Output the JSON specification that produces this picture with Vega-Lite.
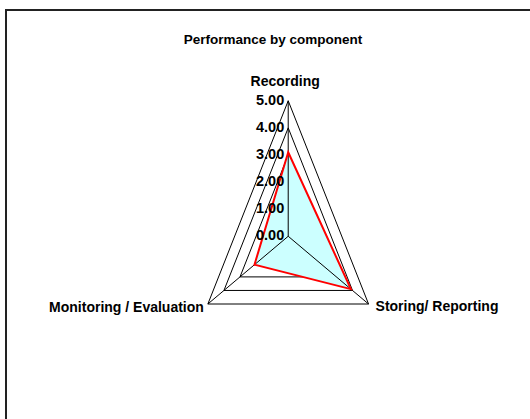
{
  "$schema": "https://vega.github.io/schema/vega-lite/v6.json",
  "autosize": "none",
  "width": 534,
  "height": 420,
  "padding": {"left": 6, "top": 10, "right": -10, "bottom": -11},
  "background": "white",
  "config": {
    "view": {"stroke": "#222222", "strokeWidth": 2},
    "font": "Liberation Sans, Arial, sans-serif"
  },
  "title": {
    "text": "Performance by component",
    "font": "Liberation Sans, Arial, sans-serif",
    "fontSize": 13.5,
    "fontWeight": "bold",
    "color": "black",
    "anchor": "middle",
    "frame": "group",
    "baseline": "alphabetic",
    "offset": -47.4
  },
  "datasets": {
    "scores": [
      {"component": "Recording", "idx": 0, "value": 3.1},
      {"component": "Storing/ Reporting", "idx": 1, "value": 3.9},
      {"component": "Monitoring / Evaluation", "idx": 2, "value": 2.1}
    ],
    "grid": [
      {"level": 1, "idx": 0}, {"level": 1, "idx": 1}, {"level": 1, "idx": 2},
      {"level": 2, "idx": 0}, {"level": 2, "idx": 1}, {"level": 2, "idx": 2},
      {"level": 3, "idx": 0}, {"level": 3, "idx": 1}, {"level": 3, "idx": 2},
      {"level": 4, "idx": 0}, {"level": 4, "idx": 1}, {"level": 4, "idx": 2},
      {"level": 5, "idx": 0}, {"level": 5, "idx": 1}, {"level": 5, "idx": 2}
    ],
    "ticks": [
      {"tick": 0}, {"tick": 1}, {"tick": 2}, {"tick": 3}, {"tick": 4}, {"tick": 5}
    ]
  },
  "layer": [
    {
      "data": {"name": "grid"},
      "transform": [
        {"calculate": "datum.level * sin(datum.idx * 2 * PI / 3)", "as": "px"},
        {"calculate": "datum.level * cos(datum.idx * 2 * PI / 3)", "as": "py"}
      ],
      "mark": {"type": "line", "interpolate": "linear-closed", "color": "black", "strokeWidth": 1},
      "encoding": {
        "x": {"field": "px", "type": "quantitative", "scale": {"domain": [-15.21, 13.57], "zero": false, "nice": false}, "axis": null},
        "y": {"field": "py", "type": "quantitative", "scale": {"domain": [-7.15, 8.35], "zero": false, "nice": false}, "axis": null},
        "detail": {"field": "level", "type": "nominal"},
        "order": {"field": "idx", "type": "quantitative"}
      }
    },
    {
      "data": {"name": "scores"},
      "transform": [
        {"calculate": "datum.value * sin(datum.idx * 2 * PI / 3)", "as": "px"},
        {"calculate": "datum.value * cos(datum.idx * 2 * PI / 3)", "as": "py"}
      ],
      "mark": {"type": "line", "interpolate": "linear-closed", "fill": "#ccffff", "stroke": "#ccffff", "strokeOpacity": 0},
      "encoding": {
        "x": {"field": "px", "type": "quantitative"},
        "y": {"field": "py", "type": "quantitative"},
        "order": {"field": "idx", "type": "quantitative"}
      }
    },
    {
      "data": {"name": "scores"},
      "transform": [
        {"calculate": "0 * datum.value", "as": "cx"},
        {"calculate": "5 * sin(datum.idx * 2 * PI / 3)", "as": "ox"},
        {"calculate": "5 * cos(datum.idx * 2 * PI / 3)", "as": "oy"}
      ],
      "mark": {"type": "rule", "color": "black", "strokeWidth": 1},
      "encoding": {
        "x": {"field": "cx", "type": "quantitative"},
        "y": {"field": "cx", "type": "quantitative"},
        "x2": {"field": "ox"},
        "y2": {"field": "oy"}
      }
    },
    {
      "data": {"name": "scores"},
      "transform": [
        {"calculate": "datum.value * sin(datum.idx * 2 * PI / 3)", "as": "px"},
        {"calculate": "datum.value * cos(datum.idx * 2 * PI / 3)", "as": "py"}
      ],
      "mark": {"type": "line", "interpolate": "linear-closed", "color": "#ff0000", "strokeWidth": 2},
      "encoding": {
        "x": {"field": "px", "type": "quantitative"},
        "y": {"field": "py", "type": "quantitative"},
        "order": {"field": "idx", "type": "quantitative"}
      }
    },
    {
      "data": {"name": "ticks"},
      "transform": [
        {"calculate": "0 * datum.tick", "as": "tx"}
      ],
      "mark": {"type": "text", "align": "right", "baseline": "middle", "dx": -4, "fontSize": 14.5, "fontWeight": "bold", "color": "black"},
      "encoding": {
        "x": {"field": "tx", "type": "quantitative"},
        "y": {"field": "tick", "type": "quantitative"},
        "text": {"field": "tick", "type": "quantitative", "format": ".2f"}
      }
    },
    {
      "data": {"name": "scores"},
      "transform": [
        {"filter": "datum.idx == 0"},
        {"calculate": "5 * sin(datum.idx * 2 * PI / 3)", "as": "ox"},
        {"calculate": "5 * cos(datum.idx * 2 * PI / 3)", "as": "oy"}
      ],
      "mark": {"type": "text", "align": "center", "baseline": "alphabetic", "dx": -3, "dy": -15, "fontSize": 14, "fontWeight": "bold", "color": "black"},
      "encoding": {
        "x": {"field": "ox", "type": "quantitative"},
        "y": {"field": "oy", "type": "quantitative"},
        "text": {"field": "component", "type": "nominal"}
      }
    },
    {
      "data": {"name": "scores"},
      "transform": [
        {"filter": "datum.idx == 1"},
        {"calculate": "5 * sin(datum.idx * 2 * PI / 3)", "as": "ox"},
        {"calculate": "5 * cos(datum.idx * 2 * PI / 3)", "as": "oy"}
      ],
      "mark": {"type": "text", "align": "left", "baseline": "alphabetic", "dx": 7, "dy": 6.5, "fontSize": 14, "fontWeight": "bold", "color": "black"},
      "encoding": {
        "x": {"field": "ox", "type": "quantitative"},
        "y": {"field": "oy", "type": "quantitative"},
        "text": {"field": "component", "type": "nominal"}
      }
    },
    {
      "data": {"name": "scores"},
      "transform": [
        {"filter": "datum.idx == 2"},
        {"calculate": "5 * sin(datum.idx * 2 * PI / 3)", "as": "ox"},
        {"calculate": "5 * cos(datum.idx * 2 * PI / 3)", "as": "oy"}
      ],
      "mark": {"type": "text", "align": "right", "baseline": "alphabetic", "dx": -4, "dy": 7.5, "fontSize": 14, "fontWeight": "bold", "color": "black"},
      "encoding": {
        "x": {"field": "ox", "type": "quantitative"},
        "y": {"field": "oy", "type": "quantitative"},
        "text": {"field": "component", "type": "nominal"}
      }
    }
  ]
}
